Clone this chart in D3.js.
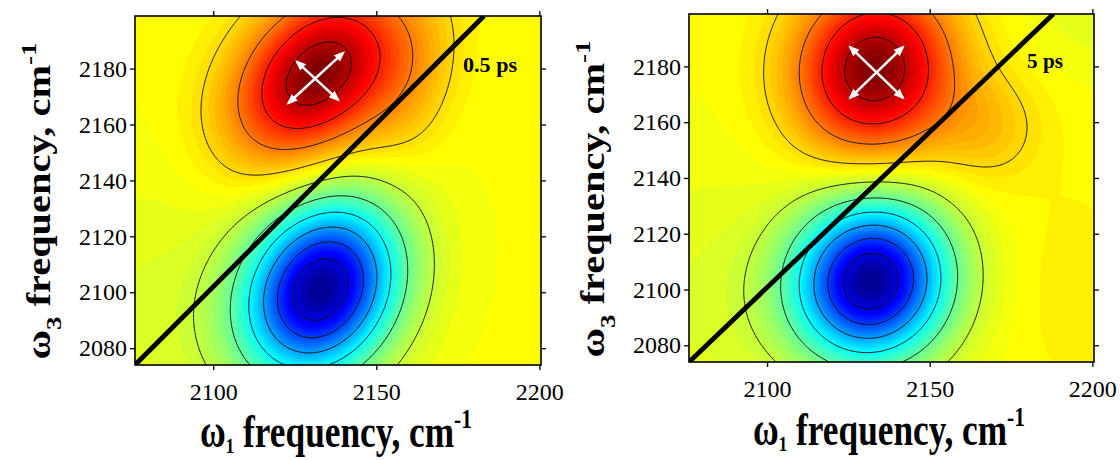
<!DOCTYPE html>
<html>
<head>
<meta charset="utf-8">
<script src="https://cdn.jsdelivr.net/npm/d3@7"></script>
<style>
  html, body { margin: 0; padding: 0; background: #fff; }
  svg { display: block; }
  svg text { font-family: "Liberation Serif", "Times New Roman", serif; }
</style>
</head>
<body>
<svg id="chart" width="1120" height="460"></svg>
<script>
// ---- data -------------------------------------------------------------
// Frequency axes (cm^-1)
const omega1Range = [2076, 2200.5];
const omega3Range = [2074, 2198.8];
const omega1Ticks = [2100, 2150, 2200];
const omega3Ticks = [2080, 2100, 2120, 2140, 2160, 2180];

// Waiting times shown in the two panels
const waitingTimes = ["0.5 ps", "5 ps"];

// Spectral components of each 2D-IR spectrum:
// [amplitude, omega1 centre, omega3 centre, omega1 width, omega3 width, correlation]
const components05 = [
  [ 1.00, 2132, 2178, 17, 20, 0.35],   // 0-1 bleach / stimulated emission
  [-1.60, 2133, 2101, 16, 21, 0.20],   // 1-2 excited-state absorption
  [ 0.15, 2160, 2174, 10, 20, 0.30],
  [-0.08, 2082, 2095, 22, 35, 0.00]
];
const components5 = [
  [ 1.00, 2133, 2179, 16, 20, 0.05],
  [-1.60, 2132, 2103, 16, 19, 0.05],
  [ 0.16, 2167, 2158, 12, 14, 0.00],
  [ 0.05, 2195, 2100, 15, 30, 0.00],
  [-0.06, 2200, 2200, 15, 15, 0.00],
  [-0.08, 2082, 2095, 22, 35, 0.00]
];

// Contour line levels and colour range (signal units)
const contourLevels = [-1.4, -1.15, -0.9, -0.65, -0.4, -0.15, 0.1, 0.35, 0.6, 0.85];
const colourRange = [-1.65, 1.0];

// Diagonal guide lines [start, end] in (omega1, omega3)
const diagonal05 = [[2076, 2074], [2183, 2198.8]];
const diagonal5  = [[2076, 2074], [2188, 2198.8]];

// Double-headed arrows marking the peak shape
const arrows05 = [
  [[2123.0, 2167.6], [2139.9, 2185.7]],
  [[2125.6, 2182.5], [2138.3, 2168.8]]
];
const arrows5 = [
  [[2125.5, 2168.7], [2141.8, 2187.0]],
  [[2125.5, 2187.0], [2141.8, 2168.7]]
];

// Anchor of the waiting-time label (omega1, omega3)
const labelAnchor05 = [2176.6, 2178.8];
const labelAnchor5  = [2179.9, 2179.4];

// ---- layout -----------------------------------------------------------
const panels = [
  { box: { x: 135, y: 16, w: 406, h: 349 }, comps: components05, diag: diagonal05,
    arrows: arrows05, label: waitingTimes[0], anchor: labelAnchor05, labelLen: 54,
    yTitle: { x: 50, y: 201, len: 317 }, xTitle: { x: 336, y: 447, len: 272 } },
  { box: { x: 689, y: 14, w: 405, h: 348 }, comps: components5, diag: diagonal5,
    arrows: arrows5, label: waitingTimes[1], anchor: labelAnchor5, labelLen: 36,
    yTitle: { x: 604, y: 199, len: 317 }, xTitle: { x: 889, y: 445, len: 272 } }
];

const serif = '"Liberation Serif", "Times New Roman", serif';
const svg = d3.select("#chart");

// MATLAB-style jet colour map
function jet(t) {
  const c = v => Math.max(0, Math.min(1, v));
  const r = c(1.5 - Math.abs(4 * t - 3));
  const g = c(1.5 - Math.abs(4 * t - 2));
  const b = c(1.5 - Math.abs(4 * t - 1));
  return d3.rgb(r * 255, g * 255, b * 255).formatHex();
}
const tScale = d3.scaleLinear().domain(colourRange).range([0, 1]).clamp(true);
const colour = v => jet(tScale(v));

function signal(comps, w1, w3) {
  let s = 0;
  for (const [a, x0, y0, sx, sy, r] of comps) {
    const dx = (w1 - x0) / sx, dy = (w3 - y0) / sy;
    s += a * Math.exp(-(dx * dx - 2 * r * dx * dy + dy * dy) / (2 * (1 - r * r)));
  }
  return s;
}

const defs = svg.append("defs");
defs.append("marker")
  .attr("id", "head")
  .attr("viewBox", "0 0 10 10")
  .attr("refX", 8).attr("refY", 5)
  .attr("markerWidth", 11).attr("markerHeight", 11)
  .attr("markerUnits", "userSpaceOnUse")
  .attr("orient", "auto-start-reverse")
  .append("path").attr("d", "M0,1 L10,5 L0,9 Z").attr("fill", "#fff");

panels.forEach((p, pi) => {
  const { x, y, w, h } = p.box;
  const xs = d3.scaleLinear().domain(omega1Range).range([x, x + w]);
  const ys = d3.scaleLinear().domain(omega3Range).range([y + h, y]);

  defs.append("clipPath").attr("id", "clip" + pi)
    .append("rect").attr("x", x).attr("y", y).attr("width", w).attr("height", h);

  // sample the spectrum on a regular grid
  const step = 0.5;
  const nx = Math.round((omega1Range[1] - omega1Range[0]) / step) + 1;
  const ny = Math.round((omega3Range[1] - omega3Range[0]) / step) + 1;
  const values = new Float64Array(nx * ny);
  for (let j = 0; j < ny; j++) {
    const w3 = omega3Range[0] + j * step;
    for (let i = 0; i < nx; i++) {
      values[j * nx + i] = signal(p.comps, omega1Range[0] + i * step, w3);
    }
  }
  const proj = d3.geoTransform({
    point(gx, gy) {
      this.stream.point(xs(omega1Range[0] + (gx - 0.5) * step),
                        ys(omega3Range[0] + (gy - 0.5) * step));
    }
  });
  const path = d3.geoPath(proj);

  const g = svg.append("g").attr("clip-path", `url(#clip${pi})`);
  g.append("rect").attr("x", x).attr("y", y).attr("width", w).attr("height", h)
    .attr("fill", colour(d3.min(values)));

  // filled colour bands
  const bandStep = 0.035;
  const bands = d3.range(colourRange[0], colourRange[1] + 0.05, bandStep);
  const filled = d3.contours().size([nx, ny]).thresholds(bands)(values);
  g.selectAll("path.band").data(filled).join("path")
    .attr("class", "band")
    .attr("d", path)
    .attr("fill", d => colour(d.value + bandStep / 2))
    .attr("stroke", d => colour(d.value + bandStep / 2))
    .attr("stroke-width", 0.4);

  // contour lines
  const lines = d3.contours().size([nx, ny]).thresholds(contourLevels)(values);
  g.selectAll("path.iso").data(lines).join("path")
    .attr("class", "iso")
    .attr("d", path)
    .attr("fill", "none")
    .attr("stroke", "#111")
    .attr("stroke-width", 0.95);

  // diagonal
  g.append("line")
    .attr("x1", xs(p.diag[0][0])).attr("y1", ys(p.diag[0][1]))
    .attr("x2", xs(p.diag[1][0])).attr("y2", ys(p.diag[1][1]))
    .attr("stroke", "#000").attr("stroke-width", 4.8);

  // arrows
  g.selectAll("line.arrow").data(p.arrows).join("line")
    .attr("class", "arrow")
    .attr("x1", d => xs(d[0][0])).attr("y1", d => ys(d[0][1]))
    .attr("x2", d => xs(d[1][0])).attr("y2", d => ys(d[1][1]))
    .attr("stroke", "#fff").attr("stroke-width", 2.6)
    .attr("marker-start", "url(#head)").attr("marker-end", "url(#head)");

  // waiting-time label
  const lab = svg.append("text")
    .style("font-family", serif).style("font-weight", "bold")
    .style("font-size", "20px")
    .text(p.label);
  const ll = lab.node().getComputedTextLength();
  lab.attr("transform",
    `translate(${xs(p.anchor[0])},${ys(p.anchor[1])}) scale(${p.labelLen / ll},1)`);

  // axes
  const styleAxis = sel => {
    sel.select(".domain").remove();
    sel.selectAll(".tick line").attr("stroke", "#000").attr("stroke-width", 1.3);
    sel.selectAll(".tick text")
      .style("font-family", serif).style("font-size", "24px").style("fill", "#000");
  };
  svg.append("g").attr("transform", `translate(0,${y + h})`)
    .call(d3.axisBottom(xs).tickValues(omega1Ticks).tickSize(5).tickPadding(13)
      .tickFormat(d3.format("d"))).call(styleAxis);
  svg.append("g").attr("transform", `translate(0,${y})`)
    .call(d3.axisTop(xs).tickValues(omega1Ticks).tickSize(5).tickFormat(""))
    .call(styleAxis);
  svg.append("g").attr("transform", `translate(${x},0)`)
    .call(d3.axisLeft(ys).tickValues(omega3Ticks).tickSize(5).tickPadding(3)
      .tickFormat(d3.format("d"))).call(styleAxis);
  svg.append("g").attr("transform", `translate(${x + w},0)`)
    .call(d3.axisRight(ys).tickValues(omega3Ticks).tickSize(5).tickFormat(""))
    .call(styleAxis);

  svg.append("rect").attr("x", x).attr("y", y).attr("width", w).attr("height", h)
    .attr("fill", "none").attr("stroke", "#000").attr("stroke-width", 1.6);

  // axis titles
  const xt = svg.append("text")
    .style("font-family", serif).style("font-weight", "bold").style("font-size", "46px")
    .attr("text-anchor", "middle");
  xt.append("tspan").text("\u03c9");
  xt.append("tspan").style("font-size", "22px").attr("dy", 6).text("1");
  xt.append("tspan").attr("dy", -6).text(" frequency, cm");
  xt.append("tspan").style("font-size", "28px").attr("dy", -19).text("-1");
  const xl = xt.node().getComputedTextLength();
  xt.attr("transform", `translate(${p.xTitle.x},${p.xTitle.y}) scale(${p.xTitle.len / xl},1)`);

  const yt = svg.append("text")
    .style("font-family", serif).style("font-weight", "bold").style("font-size", "33px")
    .attr("text-anchor", "middle");
  yt.append("tspan").text("\u03c9");
  yt.append("tspan").style("font-size", "22px").attr("dy", 11).text("3");
  yt.append("tspan").attr("dy", -11).text(" frequency, cm");
  yt.append("tspan").style("font-size", "22px").attr("dy", -14).text("-1");
  const yl = yt.node().getComputedTextLength();
  yt.attr("transform",
    `translate(${p.yTitle.x},${p.yTitle.y}) rotate(-90) scale(${p.yTitle.len / yl},1)`);
});
</script>
</body>
</html>
